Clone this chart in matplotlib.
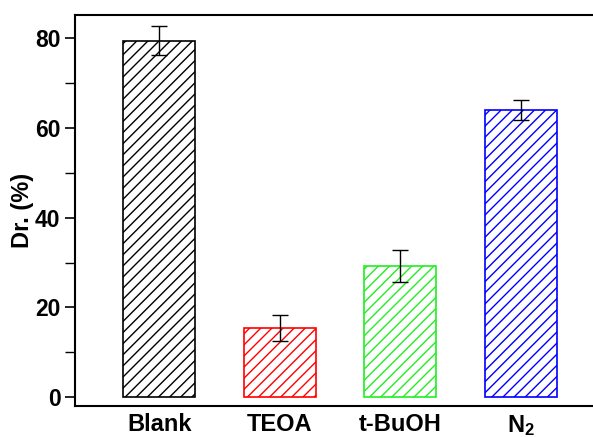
import matplotlib
matplotlib.use("Agg")
import matplotlib.pyplot as plt

categories = ["Blank", "TEOA", "t-BuOH", r"$\mathbf{N_2}$"]
values = [79.5, 15.4, 29.3, 64.0]
errors = [3.3, 2.8, 3.6, 2.2]
colors = ["black", "red", "#22ee22", "blue"]

plt.rcParams['font.family'] = ['Liberation Sans', 'DejaVu Sans']
plt.rcParams['font.weight'] = 'bold'
plt.rcParams['mathtext.fontset'] = 'custom'
plt.rcParams['mathtext.bf'] = 'Liberation Sans:bold'
plt.rcParams['mathtext.rm'] = 'Liberation Sans'
plt.rcParams['hatch.linewidth'] = 1.0

fig = plt.figure(figsize=(5.93, 4.37), dpi=100)
# axes extends slightly beyond the right edge (cropped reference)
ax = fig.add_axes([75/593, 1 - 406/437, (605-75)/593, (406-15)/437])

x = list(range(len(categories)))
for xi, v, c in zip(x, values, colors):
    plt.rcParams['hatch.color'] = c
    ax.bar(xi, v, width=0.6, facecolor='white', edgecolor=c, hatch='///', linewidth=1.2)
ax.errorbar(x, values, yerr=errors, fmt='none', ecolor='black', elinewidth=1.0,
            capsize=6, capthick=1.0)

ax.set_xlim(-0.7, 3.7)
ax.set_ylim(-2, 85.2)
ax.set_xticks(x)
ax.set_xticklabels(categories, fontsize=17, fontweight='bold')
ax.tick_params(axis='x', length=0, pad=5)
ax.set_yticks([0, 20, 40, 60, 80])
ax.set_yticks([10, 30, 50, 70], minor=True)
ax.tick_params(axis='y', which='major', length=7, width=1.2, labelsize=16.5, direction='out')
ax.tick_params(axis='y', which='minor', length=7, width=1.0, direction='out')
for lab in ax.get_yticklabels():
    lab.set_fontweight('bold')
ax.set_ylabel("Dr. (%)", fontsize=17, fontweight='bold', labelpad=0.5)
for s in ax.spines.values():
    s.set_linewidth(1.5)

fig.savefig("out.png", dpi=100)
